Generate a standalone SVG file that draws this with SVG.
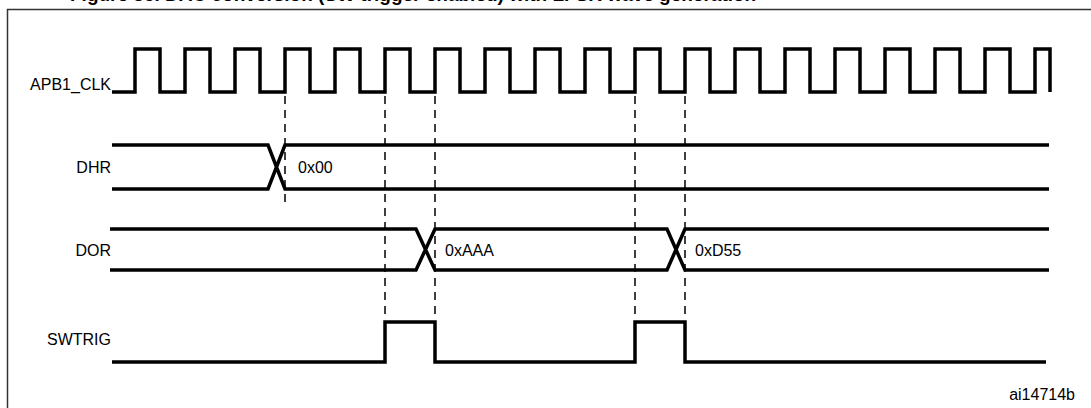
<svg xmlns="http://www.w3.org/2000/svg" width="1091" height="408" viewBox="0 0 1091 408">
<style>
.sig{fill:none;stroke:#000;stroke-width:3.5;stroke-linejoin:miter}
.dash{fill:none;stroke:#000;stroke-width:1.5;stroke-dasharray:8 6}
text{font-family:"Liberation Sans",Arial,sans-serif;fill:#000}
.lbl{font-size:16px;text-anchor:end;dominant-baseline:central}
.val{font-size:16px;dominant-baseline:central}
</style>
<rect width="1091" height="408" fill="#fff"/>
<text x="70" y="1" font-size="19" font-weight="bold">Figure 35. DAC conversion (SW trigger enabled) with LFSR wave generation</text>
<path d="M7.5 408V9.5H1091" fill="none" stroke="#333" stroke-width="1.5"/>
<g id="connectors">
<line class="dash" x1="285" y1="96" x2="285" y2="205"/>
<line class="dash" x1="385" y1="96" x2="385" y2="318"/>
<line class="dash" x1="435" y1="96" x2="435" y2="318"/>
<line class="dash" x1="635" y1="96" x2="635" y2="318"/>
<line class="dash" x1="685" y1="96" x2="685" y2="318"/>
</g>
<g id="apb1_clk">
<text class="lbl" x="111" y="84">APB1_CLK</text>
<path class="sig" d="M112 92H135V49H160V92H185V49H210V92H235V49H260V92H285V49H310V92H335V49H360V92H385V49H410V92H435V49H460V92H485V49H510V92H535V49H560V92H585V49H610V92H635V49H660V92H685V49H710V92H735V49H760V92H785V49H810V92H835V49H860V92H885V49H910V92H935V49H960V92H985V49H1010V92H1035V49H1050V92"/>
</g>
<g id="dhr">
<text class="lbl" x="111" y="167">DHR</text>
<path class="sig" d="M112 145H268L285 189H1049M112 189H268L285 145H1049"/>
<text class="val" x="298" y="167">0x00</text>
</g>
<g id="dor">
<text class="lbl" x="111" y="250">DOR</text>
<path class="sig" d="M110 229H416L435 270H667L685 229H1049M110 270H416L435 229H667L685 270H1049"/>
<text class="val" x="445" y="250">0xAAA</text>
<text class="val" x="695" y="250">0xD55</text>
</g>
<g id="swtrig">
<text class="lbl" x="111" y="339">SWTRIG</text>
<path class="sig" d="M112 362H385V322H435V362H635V322H685V362H1046"/>
</g>
<text x="1075" y="400" font-size="16" text-anchor="end">ai14714b</text>
</svg>
